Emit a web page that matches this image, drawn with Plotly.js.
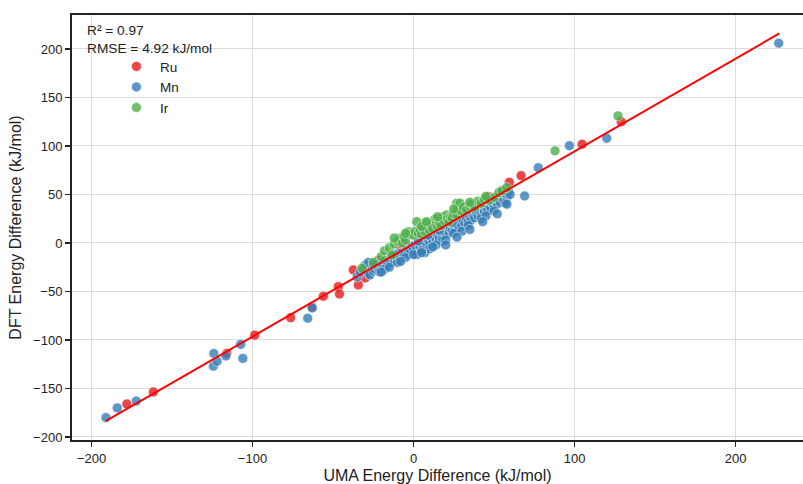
<!DOCTYPE html>
<html>
<head>
<meta charset="utf-8">
<script src="https://cdn.plot.ly/plotly-3.0.1.min.js"></script>
<style>html,body{margin:0;padding:0;background:#fff;}#chart{width:803px;height:484px;}</style>
</head>
<body>
<div id="chart"></div>
<script>
// Ru (red)
const ruX = [-178, -161.6, -116, -98.6, -76.3, -63, -56, -46.7, -46, -37.4, -34.3,
  -28, -22, -15, -8, -3, 4, 9, 16, 22, 28, 33, 38, 43, 46.5, 47, 48.6, 52, 56,
  59.5, 66.8, 104.7, 129, -30, 0, 12, 35];
const ruY = [-166, -153.6, -114, -95, -77, -66, -55, -45, -52.6, -27.8, -43.3,
  -29, -18, -20, -5, -3, 2, 6, 12, 17, 23, 30, 32, 38, 47.7, 40, 34, 47, 52,
  62.5, 69.4, 101.8, 125, -36, -8, 5, 24];

// Mn (blue)
const mnX = [-191, -184, -172.2, -124, -124.3, -122, -116.5, -107.3, -106, -65.7, -62.9,
  -35, -33, -31, -30, -28, -27, -26, -25, -24, -23, -22, -21, -20, -19, -18, -17, -16,
  -15, -14, -13, -12, -11, -10, -9, -8, -7, -6, -5, -4, -3, -2, -1, 0, 1, 2, 3, 4, 5,
  6, 7, 7, 8, 9, 10, 11, 12, 13, 14, 15, 16, 17, 18, 19, 20, 21, 22, 23, 24, 25, 26,
  27, 28, 29, 30, 31, 32, 33, 34, 35, 36, 37, 38, 39, 40, 41, 42, 43, 44, 45, 46, 47,
  48, 49, 50, 51, 52, 53, 54, 55, 56, 57, 58, 59, 55, 57, 60, -10, 2, 10, 18, 25, 34,
  42, 50, -18, -5, 14, 30, 45, -28, 5, 20,
  -20, -15, -8, 0, 5, 12, 20, 27, 35, 43, 52, 58, -25, -12, 3, 16, 38, 48, 24, 9,
  69, 77.5, 96.8, 120, 226.8];
const mnY = [-180, -170, -163, -114, -127, -122, -116.5, -104.5, -119, -77.6, -67,
  -35, -30, -27, -23, -32, -33, -24, -29, -27, -22, -26, -30, -20, -24, -19, -21, -23,
  -17, -20, -15, -18, -13, -16, -11, -15, -10, -12, -9, -7, -11, -7, -4, -6, -2, -5, -1, -4, 0,
  -3, -10, 2, -1, 3, 1, 5, 2, 6, 4, 8, 5, 10, 7, 11, 9, 14, 10, 15, 13, 17, 14,
  19, 16, 21, 18, 23, 20, 25, 22, 27, 24, 29, 26, 31, 28, 33, 30, 35, 32, 37, 34, 39,
  36, 41, 38, 43, 40, 45, 42, 47, 44, 50, 47, 53, 52, 41, 50, -20, -12, -6, 2, 10, 18,
  25, 33, -27, -15, -2, 12, 28, -20, -8, 3,
  -30, -25, -19, -12, -10, -4, -2, 6, 14, 22, 30, 40, -22, -12, 2, 13, 35, 45, 21, 8,
  48.5, 77.6, 100.3, 108, 205.9];

// Ir (green)
const irX = [-32, -25, -20, -18, -15, -13.5, -11.9, -10, -8.4, -7, -6, -5, -3.2, -2, 0, 1, 2,
  3, 4, 5, 6, 7, 8.2, 9, 10, 11, 12, 13.4, 14, 15, 16, 17, 18.5, 19, 20.6, 21, 22, 23, 24,
  25, 26.8, 26.8, 27, 28, 28.9, 30, 31, 33, 35, 36, 38, 39.9, 42, 44, 47, 50, 53, 55, 57.9,
  -5, 5, 15, 25, 35, 45, 8, -12,
  87.9, 127];
const irY = [-26, -20, -14, -8, -5, -12.4, -1, 2, 4.8, 0, 6, 3, 11.6, 9, 8, 12, 22,
  10, 14, 9, 15, 12, 20.3, 16, 13, 18, 15, 24.7, 19, 17, 21, 18, 27, 23, 28.9, 25, 22, 27, 26,
  30, 34, 41, 29, 34, 41, 33, 37, 34, 38, 40, 37, 43, 41, 45, 44, 47, 52, 54, 57,
  10, 17, 27, 35, 42, 48, 22, 5,
  95, 131];

// regression fit
const fitSlope = 0.955;
const fitIntercept = -1;
const fitX = [-191, 227.2];

const fitY = fitX.map(v => fitSlope * v + fitIntercept);

const mk = (c) => ({size: 10, color: c, opacity: 0.8, line: {color: '#ffffff', width: 0.6}});
const traces = [
  {x: ruX, y: ruY, type: 'scatter', mode: 'markers', name: 'Ru', marker: mk('#e41a1c')},
  {x: mnX, y: mnY, type: 'scatter', mode: 'markers', name: 'Mn', marker: mk('#377eb8')},
  {x: irX, y: irY, type: 'scatter', mode: 'markers', name: 'Ir', marker: mk('#4daf4a')},
  {x: fitX, y: fitY, type: 'scatter', mode: 'lines', showlegend: false,
   line: {color: '#ff0000', width: 2}}
];

const font = {family: 'Liberation Sans, Arial, sans-serif', color: '#222', size: 13};
const layout = {
  width: 803, height: 484,
  margin: {l: 72, r: 0, t: 15, b: 44},
  paper_bgcolor: '#fff', plot_bgcolor: '#fff',
  font: font,
  showlegend: true,
  legend: {x: 0.056, y: 0.915, xanchor: 'left', yanchor: 'top', bgcolor: 'rgba(0,0,0,0)',
           itemwidth: 37,
           font: {family: font.family, size: 13.5, color: '#222'}, tracegroupgap: 0},
  xaxis: {
    range: [-212.1, 241.9], tickvals: [-200, -100, 0, 100, 200],
    ticktext: ['\u2212200', '\u2212100', '0', '100', '200'],
    showgrid: true, gridcolor: '#dcdcdc', gridwidth: 1, zeroline: false,
    showline: true, linecolor: '#222', linewidth: 2, mirror: true,
    ticks: 'outside', ticklen: 5, tickwidth: 1.5, tickcolor: '#222',
    title: {text: 'UMA Energy Difference (kJ/mol)', font: {family: font.family, size: 16, color: '#222'}, standoff: 6}
  },
  yaxis: {
    range: [-203.1, 235], tickvals: [-200, -150, -100, -50, 0, 50, 100, 150, 200],
    ticktext: ['\u2212200', '\u2212150', '\u2212100', '\u221250', '0', '50', '100', '150', '200'],
    showgrid: true, gridcolor: '#dcdcdc', gridwidth: 1, zeroline: false,
    showline: true, linecolor: '#222', linewidth: 2,
    ticks: 'outside', ticklen: 5, tickwidth: 1.5, tickcolor: '#222',
    title: {text: 'DFT Energy Difference (kJ/mol)', font: {family: font.family, size: 16, color: '#222'}, standoff: 8}
  },
  annotations: [{
    xref: 'paper', yref: 'paper', x: 0.018, y: 0.985, xanchor: 'left', yanchor: 'top',
    align: 'left', showarrow: false,
    text: 'R\u00b2 = 0.97<br>RMSE = 4.92 kJ/mol',
    font: {family: font.family, size: 13.7, color: '#222'}
  }]
};

Plotly.newPlot('chart', traces, layout, {displayModeBar: false, staticPlot: true});
</script>
</body>
</html>
